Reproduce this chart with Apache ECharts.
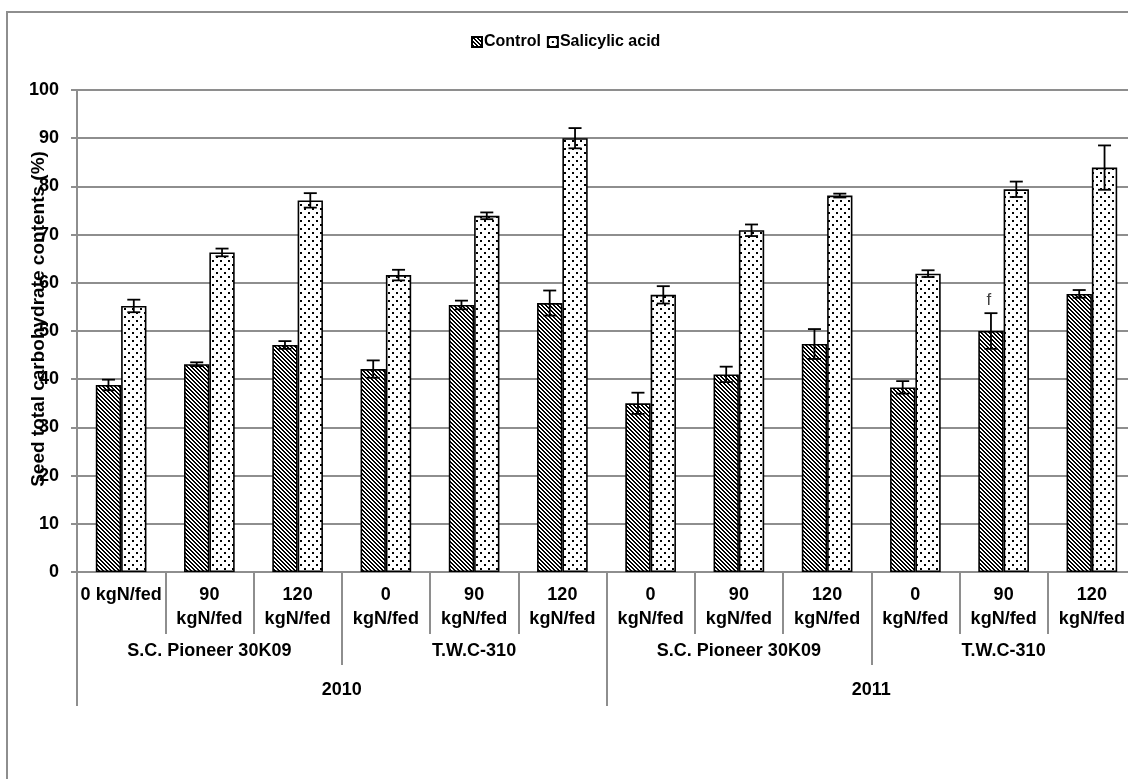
<!DOCTYPE html>
<html>
<head>
<meta charset="utf-8">
<title>Seed total carbohydrate contents</title>
<script src="https://cdn.jsdelivr.net/npm/echarts@6/dist/echarts.min.js"></script>
<style>
  html, body { margin: 0; padding: 0; background: #fff; overflow: hidden; }
  /* the plot runs a few pixels past the right edge of the window */
  #chart { width: 1136px; height: 779px; }
</style>
</head>
<body>
<div id="chart"></div>
<script>
// Category labels (three levels: fertilizer rate, variety, season)
const fertLabels = [
  '0 kgN/fed', '90\nkgN/fed', '120\nkgN/fed',
  '0\nkgN/fed', '90\nkgN/fed', '120\nkgN/fed',
  '0\nkgN/fed', '90\nkgN/fed', '120\nkgN/fed',
  '0\nkgN/fed', '90\nkgN/fed', '120\nkgN/fed'
];
const varietyLabels = ['S.C. Pioneer 30K09', 'T.W.C-310', 'S.C. Pioneer 30K09', 'T.W.C-310'];
const yearLabels = ['2010', '2011'];

// Seed total carbohydrate contents (%) and their error margins
const controlValues   = [38.8, 43.1, 47.1, 42.1, 55.4, 55.8, 35.0, 41.0, 47.3, 38.3, 50.0, 57.7];
const controlErr      = [1.1, 0.4, 0.8, 1.8, 0.9, 2.6, 2.2, 1.6, 3.1, 1.3, 3.7, 0.8];
const salicylicValues = [55.2, 66.3, 77.1, 61.6, 73.9, 90.0, 57.5, 70.9, 78.1, 61.9, 79.4, 83.9];
const salicylicErr    = [1.3, 0.8, 1.5, 1.1, 0.7, 2.1, 1.8, 1.2, 0.4, 0.7, 1.6, 4.6];
const controlNotes    = ['', '', '', '', '', '', '', '', '', '', 'f', ''];
const salicylicNotes  = ['', '', '', '', '', '', '', '', '', '', '', ''];

const yTicks = { min: 0, max: 100, interval: 10 };

const FONT = 'Liberation Sans, Arial, Helvetica, sans-serif';
const GRAY = '#8e8e8e';
const CAT_GAP = 0.426;

// Pixel fill patterns for the bars
function hatchPattern() {
  const c = document.createElement('canvas');
  c.width = 8; c.height = 8;
  const g = c.getContext('2d');
  g.fillStyle = '#fff'; g.fillRect(0, 0, 8, 8);
  g.fillStyle = '#000';
  for (let y = 0; y < 8; y++) {
    for (let x = 0; x < 8; x++) {
      if (((x - y) % 4 + 4) % 4 < 2) g.fillRect(x, y, 1, 1);
    }
  }
  return c;
}
function dotPattern() {
  const c = document.createElement('canvas');
  c.width = 8; c.height = 8;
  const g = c.getContext('2d');
  g.fillStyle = '#fff'; g.fillRect(0, 0, 8, 8);
  g.fillStyle = '#000';
  g.fillRect(0, 0, 2, 2);
  g.fillRect(4, 4, 2, 2);
  return c;
}
const hatchFill = { image: hatchPattern(), repeat: 'repeat' };
const dotFill = { image: dotPattern(), repeat: 'repeat' };

// Error bars drawn next to each bar of the pair
function errorRenderer(sign, notes) {
  return function (params, api) {
    const idx = api.value(0), v = api.value(1), e = api.value(2);
    const band = api.size([1, 0])[0];
    const bw = band * (1 - CAT_GAP) / 2;
    const cx = api.coord([idx, v])[0] + sign * bw / 2;
    const yTop = api.coord([idx, v + e])[1];
    const yBot = api.coord([idx, v - e])[1];
    const half = 6.5;
    const st = { stroke: '#000', lineWidth: 1.8 };
    const children = [
      { type: 'line', shape: { x1: cx, y1: yTop, x2: cx, y2: yBot }, style: st },
      { type: 'line', shape: { x1: cx - half, y1: yTop, x2: cx + half, y2: yTop }, style: st },
      { type: 'line', shape: { x1: cx - half, y1: yBot, x2: cx + half, y2: yBot }, style: st }
    ];
    const note = notes[params.dataIndex];
    if (note) {
      children.push({
        type: 'text',
        x: cx - 2, y: yTop - 4,
        style: { text: note, font: '17px ' + FONT, fill: '#404040', align: 'center', verticalAlign: 'bottom' }
      });
    }
    return { type: 'group', children: children };
  };
}

const chart = echarts.init(document.getElementById('chart'), null, { renderer: 'canvas' });

const axisText = { color: '#000', fontFamily: FONT, fontWeight: 'bold', fontSize: 18 };
const dividerTick = (len) => ({ show: true, length: len, interval: 0, inside: false, lineStyle: { color: GRAY, width: 2 } });

chart.setOption({
  backgroundColor: '#fff',
  animation: false,
  legend: {
    left: 466, top: 29,
    itemWidth: 10, itemHeight: 10, itemGap: 6,
    icon: 'rect',
    textStyle: { color: '#000', fontFamily: FONT, fontWeight: 'bold', fontSize: 16, padding: [0, 0, 0, -3] },
    data: ['Control', 'Salicylic acid']
  },
  grid: { left: 77, right: 0, top: 90, bottom: 207, containLabel: false },
  graphic: [
    {
      type: 'rect', z: -1, silent: true,
      shape: { x: 7, y: 12, width: 1140, height: 790 },
      style: { fill: 'none', stroke: GRAY, lineWidth: 2 }
    },
    {
      type: 'text', x: 39, y: 319, rotation: Math.PI / 2,
      style: {
        text: 'Seed total carbohydrate contents (%)',
        font: 'bold 19px ' + FONT, fill: '#000', align: 'center', verticalAlign: 'middle'
      }
    }
  ],
  xAxis: [
    {
      type: 'category', data: fertLabels,
      axisLine: { show: true, lineStyle: { color: GRAY, width: 2 } },
      axisTick: dividerTick(62),
      axisLabel: Object.assign({ interval: 0, margin: 11, lineHeight: 24 }, axisText),
      splitLine: { show: false }
    },
    {
      type: 'category', data: varietyLabels, position: 'bottom', offset: 62,
      axisLine: { show: false },
      axisTick: dividerTick(31),
      axisLabel: Object.assign({ interval: 0, margin: 5, lineHeight: 24 }, axisText)
    },
    {
      type: 'category', data: yearLabels, position: 'bottom', offset: 93,
      axisLine: { show: false },
      axisTick: dividerTick(41),
      axisLabel: Object.assign({ interval: 0, margin: 13, lineHeight: 24 }, axisText)
    }
  ],
  yAxis: {
    type: 'value', min: yTicks.min, max: yTicks.max, interval: yTicks.interval,
    axisLine: { show: true, lineStyle: { color: GRAY, width: 2 } },
    axisTick: { show: true, length: 6, lineStyle: { color: GRAY, width: 2 } },
    axisLabel: Object.assign({ margin: 18 }, axisText),
    splitLine: { lineStyle: { color: GRAY, width: 2 } }
  },
  series: [
    {
      name: 'Control', type: 'bar', xAxisIndex: 0,
      barCategoryGap: (CAT_GAP * 100) + '%', barGap: '0%',
      itemStyle: { color: hatchFill, borderColor: '#000', borderWidth: 1.6 },
      data: controlValues, z: 2
    },
    {
      name: 'Salicylic acid', type: 'bar', xAxisIndex: 0,
      barCategoryGap: (CAT_GAP * 100) + '%', barGap: '0%',
      itemStyle: { color: dotFill, borderColor: '#000', borderWidth: 1.6 },
      data: salicylicValues, z: 2
    },
    {
      type: 'custom', xAxisIndex: 0, z: 5,
      renderItem: errorRenderer(-1, controlNotes),
      data: controlValues.map((v, i) => [i, v, controlErr[i]])
    },
    {
      type: 'custom', xAxisIndex: 0, z: 5,
      renderItem: errorRenderer(1, salicylicNotes),
      data: salicylicValues.map((v, i) => [i, v, salicylicErr[i]])
    }
  ]
});
</script>
</body>
</html>
